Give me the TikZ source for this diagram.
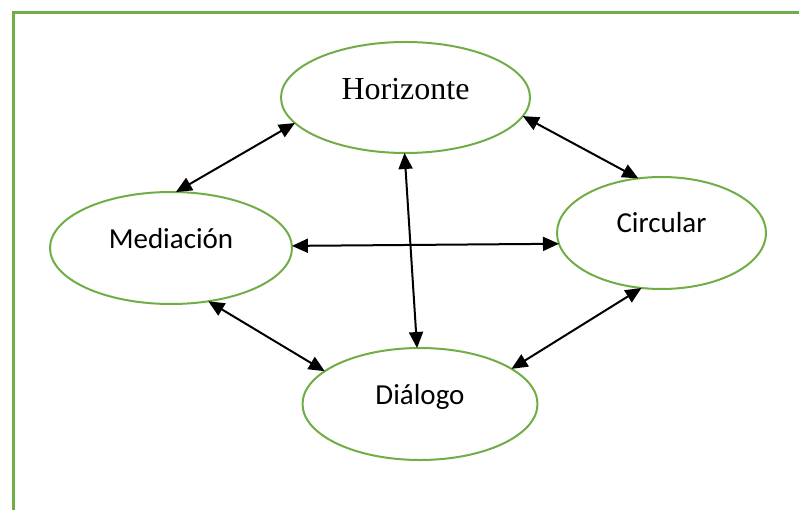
\documentclass[tikz,border=0pt]{standalone}
\usepackage{fontspec}
\usetikzlibrary{shapes.geometric,arrows.meta}
\newfontfamily\titlefont{Liberation Serif}
\newfontfamily\bodyfont{Carlito}
\definecolor{leafgreen}{HTML}{70AD47}
\begin{document}
\begin{tikzpicture}[x=1pt,y=1pt,
  oval/.style={ellipse, draw=leafgreen, line width=2pt, inner sep=0pt, outer sep=0pt},
  label text/.style={anchor=base, inner sep=0pt, font=\bodyfont\fontsize{29}{34}\selectfont},
  link/.style={line width=2pt, {Triangle[length=16pt,width=14pt]}-{Triangle[length=16pt,width=14pt]}}
]
\useasboundingbox (0,0) rectangle (799,509);
% open frame: left and top edges
\draw[leafgreen, line width=2.5pt, line join=miter] (13.3,-5) -- (13.3,496.3) -- (805,496.3);

% the four ovals
\node[oval, minimum width=249pt, minimum height=111pt] (h) at (405.5,411.5) {};
\node[oval, minimum width=242pt, minimum height=112pt] (m) at (171,261) {};
\node[oval, minimum width=209pt, minimum height=112pt] (c) at (661.5,276) {};
\node[oval, minimum width=235pt, minimum height=112pt] (d) at (420,105) {};

% labels
\node[anchor=base, inner sep=0pt, font=\titlefont\fontsize{32}{38}\selectfont] (ht) at ([yshift=-2.5pt]h.center) {Horizonte};
\node[label text] (mt) at (m.center) {Mediación};
\node[label text] (ct) at (c.center) {Circular};
\node[label text] (dt) at (d.center) {Diálogo};

% two-way links
\draw[link] (h.193.9) -- (m.85);
\draw[link] (h.351.9) -- (c.113.1);
\draw[link] (m.1.4) -- (c.186);
\draw[link] (h.269.5) -- (d.93);
\draw[link] (m.305.3) -- (d.161.2);
\draw[link] (c.250.2) -- (d.21);
\end{tikzpicture}
\end{document}
